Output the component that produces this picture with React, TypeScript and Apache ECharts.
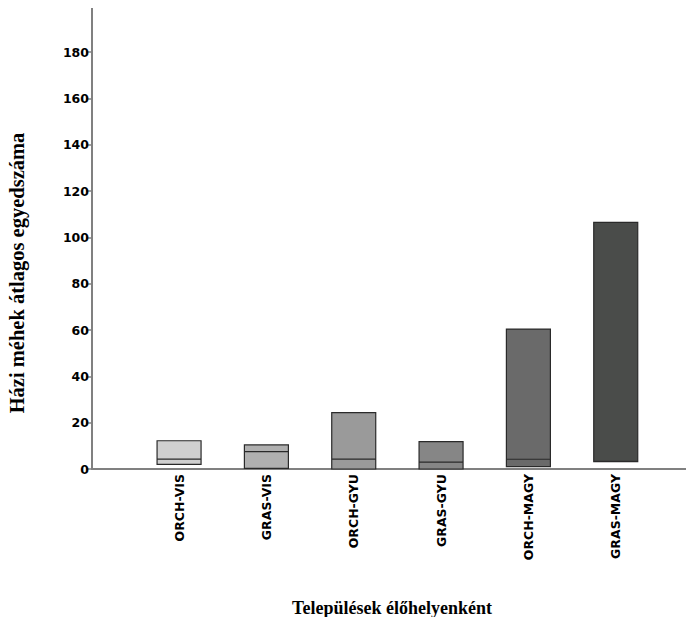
import React, { useEffect, useRef } from "react";
import * as echarts from "echarts";

const categories = ["ORCH-VIS", "GRAS-VIS", "ORCH-GYU", "GRAS-GYU", "ORCH-MAGY", "GRAS-MAGY"];
// [min, Q1, median, Q3, max]
const boxValues = [
  [2, 2, 4.3, 12.2, 12.2],
  [0.3, 0.3, 7.5, 10.4, 10.4],
  [0, 0, 4.3, 24.3, 24.3],
  [0, 0, 3, 11.8, 11.8],
  [1, 1, 4.2, 60.4, 60.4],
  [3.2, 3.2, 3.3, 106.5, 106.5],
];
const boxColors = ["#d0d0d0", "#b0b0b0", "#9a9a9a", "#868686", "#6a6a6a", "#4a4c4a"];
const yTitle = "Házi méhek átlagos egyedszáma";
const xTitle = "Települések élőhelyenként";

export default function App() {
  const ref = useRef<HTMLDivElement>(null);
  useEffect(() => {
    if (!ref.current) return;
    const chart = echarts.init(ref.current, null, { renderer: "svg" });
    const axisGray = "#808080";
    chart.setOption({
      animation: false,
      backgroundColor: "#ffffff",
      grid: [
        { left: 92, right: 0, top: 5.7, bottom: 156 },
        { left: 135.4, right: 34.6, top: 5.7, bottom: 156 },
      ],
      xAxis: [
        {
          gridIndex: 0, type: "value", min: 0, max: 1, position: "bottom",
          axisLine: { show: true, lineStyle: { color: axisGray, width: 2 } },
          axisTick: { show: false }, axisLabel: { show: false }, splitLine: { show: false },
        },
        {
          gridIndex: 0, type: "value", min: 0, max: 1, position: "top",
          axisLine: { show: true, lineStyle: { color: axisGray, width: 2 } },
          axisTick: { show: false }, axisLabel: { show: false }, splitLine: { show: false },
        },
        {
          gridIndex: 1, type: "category", data: categories, boundaryGap: true,
          axisLine: { show: false }, axisTick: { show: false }, splitLine: { show: false },
          axisLabel: {
            rotate: 90, margin: 5, color: "#000", fontWeight: "bold",
            fontFamily: "DejaVu Sans", fontSize: 12.5,
          },
        },
      ],
      yAxis: [
        {
          gridIndex: 0, type: "value", min: 0, max: 200, interval: 20,
          axisLine: { show: true, lineStyle: { color: axisGray, width: 2 } },
          axisTick: { show: true, length: 6, lineStyle: { color: axisGray, width: 1.5 } },
          splitLine: { show: false },
          axisLabel: {
            margin: 3, color: "#000", fontWeight: "bold", fontFamily: "DejaVu Sans", fontSize: 12.5,
            showMaxLabel: false,
          },
        },
        {
          gridIndex: 1, type: "value", min: 0, max: 200, show: false,
        },
      ],
      series: [
        {
          type: "boxplot",
          xAxisIndex: 2,
          yAxisIndex: 1,
          boxWidth: [44, 44],
          data: boxValues.map((v, i) => ({
            value: v,
            itemStyle: { color: boxColors[i], borderColor: "#2a2a2a", borderWidth: 1.2 },
          })),
        },
      ],
      graphic: [
        {
          type: "text", x: 17, y: 273, rotation: Math.PI / 2,
          style: {
            text: yTitle, fill: "#000", font: "bold 20.5px 'Liberation Serif'",
            align: "center", verticalAlign: "middle",
          },
        },
        {
          type: "text", x: 392, y: 608,
          style: {
            text: xTitle, fill: "#000", font: "bold 18px 'Liberation Serif'",
            align: "center", verticalAlign: "middle",
          },
        },
      ],
    });
    return () => chart.dispose();
  }, []);
  return <div ref={ref} style={{ width: 694, height: 625, margin: -8 }} />;
}
